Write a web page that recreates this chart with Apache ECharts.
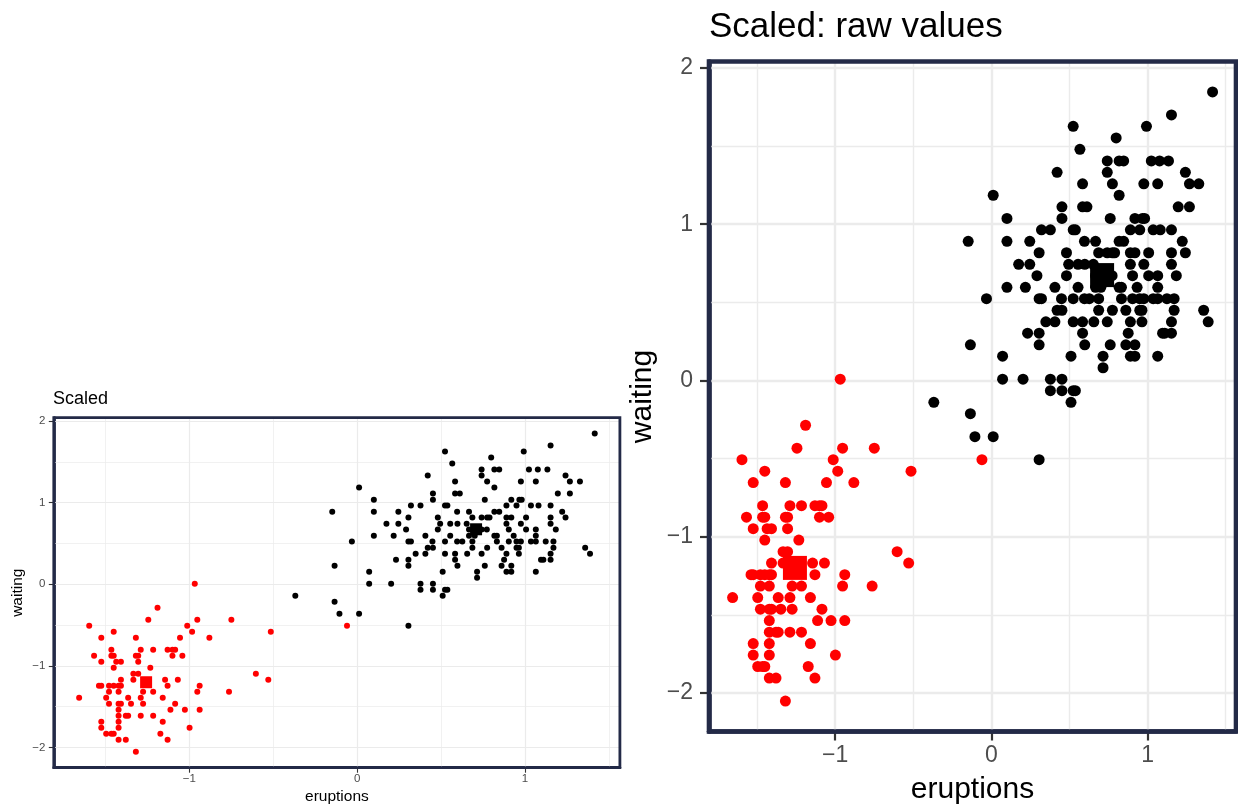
<!DOCTYPE html>
<html><head><meta charset="utf-8">
<script src="https://cdn.jsdelivr.net/npm/echarts@6/dist/echarts.min.js"></script>
<style>html,body{margin:0;padding:0;background:#fff}#c{width:1238px;height:808px}</style>
</head><body><div id="c"></div>
<script>
// ---- data (scaled eruptions, scaled waiting) ----
const blackPoints = [
 [1.416,1.846],
 [1.153,1.699],
 [0.524,1.626],[0.993,1.626],
 [0.799,1.552],
 [0.567,1.479],
 [0.742,1.405],[0.818,1.405],[0.847,1.405],[1.024,1.405],[1.077,1.405],[1.134,1.405],
 [0.421,1.332],[0.742,1.332],[1.242,1.332],
 [0.584,1.258],[0.775,1.258],[0.976,1.258],[1.065,1.258],[1.268,1.258],[1.328,1.258],
 [0.012,1.185],[0.818,1.185],
 [0.452,1.111],[0.584,1.111],[0.612,1.111],[1.196,1.111],[1.268,1.111],
 [0.100,1.037],[0.452,1.037],[0.761,1.037],[0.919,1.037],[0.967,1.037],[0.981,1.037],
 [0.321,0.964],[0.378,0.964],[0.524,0.964],[0.538,0.964],[0.890,0.964],[0.950,0.964],[1.036,0.964],[1.081,0.964],[1.153,0.964],
 [-0.148,0.890],[0.100,0.890],[0.246,0.890],[0.596,0.890],[0.667,0.890],[0.818,0.890],[0.847,0.890],[1.222,0.890],
 [0.306,0.817],[0.481,0.817],[0.687,0.817],[0.742,0.817],[0.775,0.817],[0.789,0.817],[0.890,0.817],[0.919,0.817],[1.007,0.817],[1.153,0.817],[1.242,0.817],
 [0.175,0.743],[0.246,0.743],[0.495,0.743],[0.555,0.743],[0.598,0.743],[0.653,0.743],[0.890,0.743],[0.976,0.743],[1.153,0.743],
 [0.292,0.670],[0.481,0.670],[0.667,0.670],[0.699,0.670],[0.742,0.670],[0.773,0.670],[0.904,0.670],[1.007,0.670],[1.065,0.670],[1.184,0.670],
 [0.100,0.596],[0.218,0.596],[0.407,0.596],[0.555,0.596],[0.667,0.596],[0.701,0.596],[0.818,0.596],[0.833,0.596],[0.933,0.596],[1.065,0.596],
 [-0.031,0.523],[0.306,0.523],[0.321,0.523],[0.449,0.523],[0.524,0.523],[0.596,0.523],[0.627,0.523],[0.687,0.523],[0.833,0.523],[0.904,0.523],[0.950,0.523],[0.976,0.523],[1.036,0.523],[1.065,0.523],[1.124,0.523],[1.170,0.523],
 [0.421,0.449],[0.452,0.449],[0.687,0.449],[0.775,0.449],[0.861,0.449],[0.950,0.449],[0.964,0.449],[1.170,0.449],[1.359,0.449],
 [0.349,0.375],[0.407,0.375],[0.524,0.375],[0.584,0.375],[0.656,0.375],[0.742,0.375],[0.890,0.375],[0.964,0.375],[1.153,0.375],[1.388,0.375],
 [0.232,0.302],[0.306,0.302],[0.584,0.302],[0.876,0.302],[1.096,0.302],[1.110,0.302],[1.153,0.302],
 [-0.134,0.228],[0.306,0.228],[0.598,0.228],[0.761,0.228],[0.861,0.228],[0.919,0.228],
 [0.072,0.155],[0.510,0.155],[0.715,0.155],[0.890,0.155],[0.919,0.155],[1.065,0.155],
 [0.715,0.081],
 [0.072,0.008],[0.203,0.008],[0.378,0.008],[0.452,0.008],
 [0.378,-0.066],[0.452,-0.066],[0.524,-0.066],[0.538,-0.066],
 [-0.368,-0.140],[0.510,-0.140],
 [-0.134,-0.213],
 [-0.105,-0.360],[0.012,-0.360],
 [0.306,-0.507]
];
const redPoints = [
 [-0.967,0.008],
 [-1.189,-0.287],
 [-1.244,-0.434],[-0.952,-0.434],[-0.749,-0.434],
 [-1.596,-0.507],[-1.012,-0.507],[-0.060,-0.507],
 [-1.450,-0.581],[-0.983,-0.581],[-0.514,-0.581],
 [-1.524,-0.654],[-1.318,-0.654],[-1.055,-0.654],[-0.880,-0.654],
 [-1.464,-0.802],[-1.289,-0.802],[-1.215,-0.802],[-1.129,-0.802],[-1.100,-0.802],[-1.084,-0.802],
 [-1.567,-0.875],[-1.464,-0.875],[-1.450,-0.875],[-1.318,-0.875],[-1.304,-0.875],[-1.100,-0.875],[-1.041,-0.875],
 [-1.524,-0.949],[-1.435,-0.949],[-1.407,-0.949],[-1.304,-0.949],
 [-1.450,-1.022],[-1.232,-1.022],
 [-1.333,-1.096],[-1.304,-1.096],[-0.603,-1.096],
 [-1.407,-1.169],[-1.333,-1.169],[-1.144,-1.169],[-1.068,-1.169],[-0.529,-1.169],
 [-1.538,-1.243],[-1.524,-1.243],[-1.478,-1.243],[-1.450,-1.243],[-1.421,-1.243],[-1.407,-1.243],[-1.129,-1.243],[-0.938,-1.243],
 [-1.478,-1.316],[-1.421,-1.316],[-1.275,-1.316],[-1.215,-1.316],[-0.952,-1.316],[-0.763,-1.316],
 [-1.656,-1.390],[-1.495,-1.390],[-1.364,-1.390],[-1.289,-1.390],[-1.158,-1.390],
 [-1.478,-1.464],[-1.421,-1.464],[-1.407,-1.464],[-1.347,-1.464],[-1.275,-1.464],[-1.084,-1.464],
 [-1.421,-1.537],[-1.112,-1.537],[-1.026,-1.537],[-0.938,-1.537],
 [-1.421,-1.611],[-1.378,-1.611],[-1.364,-1.611],[-1.289,-1.611],[-1.215,-1.611],
 [-1.524,-1.684],[-1.421,-1.684],[-1.158,-1.684],
 [-1.524,-1.758],[-1.421,-1.758],[-0.998,-1.758],
 [-1.495,-1.831],[-1.464,-1.831],[-1.450,-1.831],[-1.172,-1.831],
 [-1.421,-1.905],[-1.378,-1.905],[-1.129,-1.905],
 [-1.318,-2.052]
];
const redCenter = [[-1.257,-1.200]];
const blackCenter = [[0.709,0.674]];
const xTicks = [-1, 0, 1];
const yTicks = [-2, -1, 0, 1, 2];
const xMinor = [-1.5, -0.5, 0.5, 1.5];
const yMinor = [-1.5, -0.5, 0.5, 1.5];
const xRange = [-1.807, 1.566];
const yRange = [-2.247, 2.041];
const titles = ['Scaled', 'Scaled: raw values'];
const xName = 'eruptions';
const yName = 'waiting';

// ---- layout / style ----
const FONT = '"Liberation Sans", Arial, Helvetica, sans-serif';
const BORDER = '#232a47';
const panels = [
  {grid:{left:53.8, top:417.7, width:566.1, height:350}, pt:6, ctr:12, tickFont:11.5, tickLen:5, tickW:1.1,
   xMargin:5.5, yMargin:8.5, major:1.2, minor:0.7, border:2.8, titleSize:18, titleLeft:53, titleTop:390,
   nameSize:15.5, xNamePos:[336.9, 797], yNamePos:[18, 592.7]},
  {grid:{left:709, top:61.5, width:527, height:670}, pt:11, ctr:24, tickFont:23, tickLen:9, tickW:2.2,
   xMargin:12.5, yMargin:16, major:2.4, minor:1.4, border:4.6, titleSize:35, titleLeft:709, titleTop:10,
   nameSize:30, xNamePos:[972.5, 790], yNamePos:[643, 396.5]}
];
const fmt = v => (v < 0 ? '\u2212' + Math.abs(v) : String(v));

const grids = [], xAxes = [], yAxes = [], series = [], title = [], graphic = [];
panels.forEach((p, i) => {
  grids.push(Object.assign({containLabel:false}, p.grid));
  const tickStyle = {color:'#333333', width:p.tickW};
  const lineStyle = {color:BORDER, width:p.border};
  xAxes.push({gridIndex:i, type:'value', min:xRange[0], max:xRange[1], position:'bottom',
    axisLine:{show:true, onZero:false, lineStyle}, splitLine:{show:false},
    axisTick:{show:true, inside:false, customValues:xTicks, length:p.tickLen, lineStyle:tickStyle},
    axisLabel:{customValues:xTicks, formatter:fmt, fontSize:p.tickFont, color:'#4d4d4d', margin:p.xMargin, fontFamily:FONT}});
  yAxes.push({gridIndex:i, type:'value', min:yRange[0], max:yRange[1], position:'left',
    axisLine:{show:true, onZero:false, lineStyle}, splitLine:{show:false},
    axisTick:{show:true, inside:false, customValues:yTicks, length:p.tickLen, lineStyle:tickStyle},
    axisLabel:{customValues:yTicks, formatter:fmt, fontSize:p.tickFont, color:'#4d4d4d', margin:p.yMargin, fontFamily:FONT}});
  const ls = w => ({color:'#ebebeb', width:w, type:'solid'});
  const lines = [];
  xMinor.forEach(v => lines.push({xAxis:v, lineStyle:ls(p.minor)}));
  yMinor.forEach(v => lines.push({yAxis:v, lineStyle:ls(p.minor)}));
  xTicks.forEach(v => lines.push({xAxis:v, lineStyle:ls(p.major)}));
  yTicks.forEach(v => lines.push({yAxis:v, lineStyle:ls(p.major)}));
  series.push({type:'scatter', xAxisIndex:i, yAxisIndex:i, data:[[0,0]], symbolSize:0, silent:true, z:1,
    itemStyle:{opacity:0},
    markLine:{silent:true, symbol:['none','none'], label:{show:false}, emphasis:{disabled:true}, animation:false, lineStyle:ls(p.major), data:lines}});
  series.push({type:'scatter', xAxisIndex:i, yAxisIndex:i, data:blackPoints, symbolSize:p.pt, itemStyle:{color:'#000000', opacity:1}, z:10});
  series.push({type:'scatter', xAxisIndex:i, yAxisIndex:i, data:redPoints, symbolSize:p.pt, itemStyle:{color:'#ff0000', opacity:1}, z:10});
  series.push({type:'scatter', xAxisIndex:i, yAxisIndex:i, data:blackCenter, symbol:'rect', symbolSize:p.ctr, itemStyle:{color:'#000000', opacity:1}, z:11});
  series.push({type:'scatter', xAxisIndex:i, yAxisIndex:i, data:redCenter, symbol:'rect', symbolSize:p.ctr, itemStyle:{color:'#ff0000', opacity:1}, z:11});
  title.push({text:titles[i], left:p.titleLeft, top:p.titleTop, padding:0,
    textStyle:{fontSize:p.titleSize, fontWeight:'normal', color:'#000', fontFamily:FONT}});
  graphic.push({type:'rect', silent:true, z:100,
    shape:{x:p.grid.left, y:p.grid.top, width:p.grid.width, height:p.grid.height},
    style:{fill:'transparent', stroke:BORDER, lineWidth:p.border}});
  graphic.push({type:'text', silent:true, z:100, x:p.xNamePos[0], y:p.xNamePos[1],
    style:{text:xName, fontSize:p.nameSize, fontFamily:FONT, fill:'#000', textAlign:'center', textVerticalAlign:'middle'}});
  graphic.push({type:'text', silent:true, z:100, x:p.yNamePos[0], y:p.yNamePos[1], rotation:Math.PI/2,
    style:{text:yName, fontSize:p.nameSize, fontFamily:FONT, fill:'#000', textAlign:'center', textVerticalAlign:'middle'}});
});

const chart = echarts.init(document.getElementById('c'), null, {renderer:'canvas'});
chart.setOption({animation:false, backgroundColor:'#ffffff', title, grid:grids, xAxis:xAxes, yAxis:yAxes, series, graphic});
</script>
</body></html>
